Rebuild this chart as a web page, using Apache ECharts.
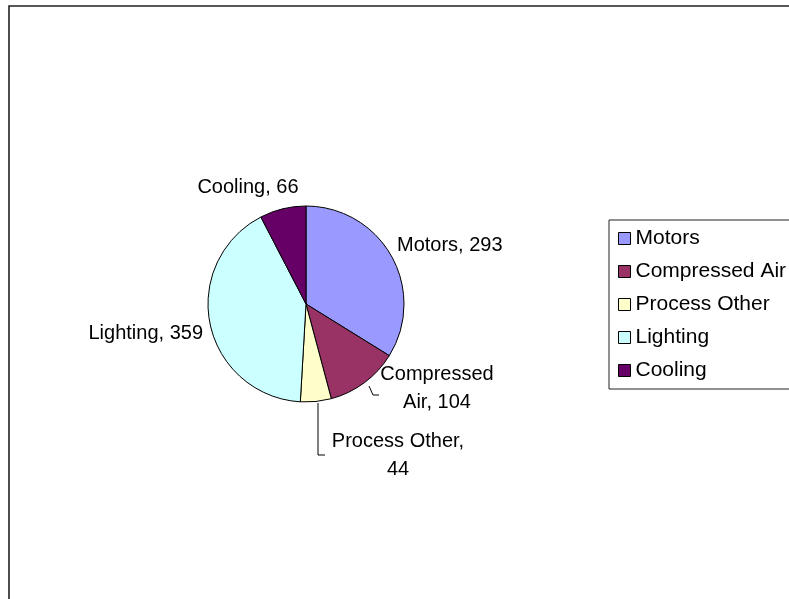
<!DOCTYPE html>
<html>
<head>
<meta charset="utf-8">
<script src="https://cdn.jsdelivr.net/npm/echarts@6/dist/echarts.min.js"></script>
<style>html,body{margin:0;padding:0;background:#fff}#c{width:789px;height:599px}</style>
</head>
<body>
<div id="c"></div>
<script>
var categories = ['Motors', 'Compressed Air', 'Process Other', 'Lighting', 'Cooling'];
var values = [293, 104, 44, 359, 66];
var colors = ['#9999FF', '#993366', '#FFFFCC', '#CCFFFF', '#660066'];

var labelPos = [
  {x: 397, y: 245, align: 'left'},
  {x: 437, y: 388, align: 'center'},
  {x: 398, y: 455, align: 'center'},
  {x: 203, y: 333, align: 'right'},
  {x: 248, y: 187, align: 'center'}
];
var leaderLines = {
  1: [[369, 386], [373, 395], [379, 395]],
  2: [[318, 403], [318, 455], [325, 455]]
};
var labelText = {1: 'Compressed\nAir, {c}', 2: 'Process Other,\n{c}'};

var chart = echarts.init(document.getElementById('c'), null, {renderer: 'canvas'});
var font = 'Liberation Sans, Arial, sans-serif';
var data = categories.map(function (n, i) {
  var d = {name: n, value: values[i], itemStyle: {color: colors[i]}};
  d.label = {formatter: labelText[i] || '{b}, {c}'};
  d.labelLine = {show: !!leaderLines[i]};
  return d;
});
chart.setOption({
  animation: false,
  graphic: [{
    type: 'rect', shape: {x: 9, y: 6, width: 900, height: 800},
    style: {fill: 'none', stroke: '#222', lineWidth: 1.6}, silent: true, z: -1
  }],
  legend: {
    orient: 'vertical', left: 609, top: 220,
    padding: [8, 60, 8, 9],
    borderColor: '#222', borderWidth: 1,
    itemWidth: 12, itemHeight: 12, itemGap: 12,
    icon: 'rect',
    itemStyle: {borderColor: '#000', borderWidth: 1},
    textStyle: {fontSize: 21, fontFamily: font, color: '#000'},
    data: categories
  },
  series: [{
    type: 'pie',
    center: [306, 304], radius: 98,
    startAngle: 90, clockwise: true,
    itemStyle: {borderColor: '#000', borderWidth: 1},
    label: {show: true, position: 'outside', fontSize: 20, fontFamily: font, color: '#000', lineHeight: 28},
    labelLine: {lineStyle: {color: '#000', width: 1}, length: 5, length2: 5},
    emphasis: {disabled: true},
    labelLayout: function (p) {
      var lp = labelPos[p.dataIndex];
      var r = {x: lp.x, y: lp.y, align: lp.align, verticalAlign: 'middle'};
      if (leaderLines[p.dataIndex]) r.labelLinePoints = leaderLines[p.dataIndex];
      return r;
    },
    data: data
  }]
});
</script>
</body>
</html>
